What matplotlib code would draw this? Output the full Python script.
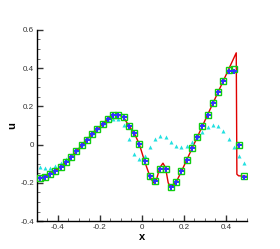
import numpy as np
import matplotlib
matplotlib.use('Agg')
import matplotlib.pyplot as plt
from matplotlib.ticker import MultipleLocator, FuncFormatter

plt.rcParams['font.family'] = ['Liberation Sans', 'DejaVu Sans']
plt.rcParams['axes.unicode_minus'] = False

# cell centres, 40 cells on [-0.5, 0.5]
xc = [-0.4875, -0.4625, -0.4375, -0.4125, -0.3875, -0.3625, -0.3375, -0.3125,
      -0.2875, -0.2625, -0.2375, -0.2125, -0.1875, -0.1625, -0.1375, -0.1125,
      -0.0875, -0.0625, -0.0375, -0.0125, 0.0125, 0.0375, 0.0625, 0.0875,
      0.1125, 0.1375, 0.1625, 0.1875, 0.2125, 0.2375, 0.2625, 0.2875,
      0.3125, 0.3375, 0.3625, 0.3875, 0.4125, 0.4375, 0.4625, 0.4875]

# scheme A (green squares)
u_sq = [-0.172, -0.169, -0.153, -0.136, -0.118, -0.091, -0.066, -0.035,
        -0.004, 0.026, 0.054, 0.080, 0.106, 0.136, 0.157, 0.157,
        0.146, 0.096, 0.063, 0.001, -0.087, -0.164, -0.189, -0.126,
        -0.130, -0.220, -0.196, -0.140, -0.079, -0.019, 0.038, 0.098,
        0.157, 0.216, 0.274, 0.331, 0.388, 0.397, -0.004, -0.166]

# scheme B (blue stars)
u_st = [-0.174, -0.169, -0.153, -0.136, -0.118, -0.091, -0.066, -0.035,
        -0.004, 0.026, 0.054, 0.080, 0.106, 0.136, 0.157, 0.155,
        0.146, 0.096, 0.063, 0.001, -0.087, -0.164, -0.189, -0.126,
        -0.130, -0.220, -0.196, -0.140, -0.079, -0.019, 0.038, 0.098,
        0.157, 0.216, 0.274, 0.331, 0.386, 0.384, -0.004, -0.168]

# scheme C (cyan triangles)
u_tr = [-0.118, -0.124, -0.121, -0.111, -0.095, -0.074, -0.052, -0.027,
        0.003, 0.032, 0.063, 0.088, 0.112, 0.128, 0.135, 0.133,
        0.101, 0.027, -0.047, -0.077, -0.058, -0.012, 0.031, 0.046,
        0.038, 0.014, -0.006, -0.012, -0.007, 0.013, 0.040, 0.065,
        0.090, 0.100, 0.096, 0.071, 0.031, -0.015, -0.060, -0.096]

# reference solution (red line)
x_ref = [-0.5, -0.4875, -0.4625, -0.4375, -0.4125, -0.3875, -0.3625, -0.3375,
         -0.3125, -0.2875, -0.2625, -0.2375, -0.2125, -0.1875, -0.1625, -0.1375,
         -0.12, -0.1, -0.0875, -0.0625, -0.0375, -0.0125, 0.0125, 0.0375,
         0.055, 0.07, 0.085, 0.1, 0.112, 0.125, 0.137, 0.1625, 0.1875,
         0.449, 0.452, 0.46, 0.5]
u_ref = [-0.178, -0.174, -0.168, -0.153, -0.136, -0.117, -0.091, -0.066,
         -0.035, -0.004, 0.026, 0.054, 0.080, 0.106, 0.134, 0.152,
         0.156, 0.150, 0.143, 0.098, 0.062, 0.002, -0.087, -0.165,
         -0.200, -0.180, -0.120, -0.097, -0.120, -0.200, -0.222, -0.197, -0.141,
         0.480, -0.155, -0.163, -0.166]

fig = plt.figure(figsize=(2.8, 2.49), dpi=100)
ax = fig.add_axes([0.132, 0.112, 0.75, 0.768])

ax.plot(x_ref, u_ref, '-', color='#e00000', linewidth=1.0, zorder=2)
ax.plot(xc, u_tr, '^', color='#22e0e0', markersize=2.9, markeredgewidth=0, zorder=3)
ax.plot(xc, u_sq, 's', mfc='none', mec='#11cc11', markersize=4.8, markeredgewidth=1.0, zorder=4)
ax.plot(xc, u_st, 'P', color='#3333ff', markersize=3.6, markeredgewidth=0, zorder=5)

ax.set_xlim(-0.5, 0.5)
ax.set_ylim(-0.4, 0.6)
ax.spines['top'].set_visible(False)
ax.spines['right'].set_visible(False)
ax.spines['left'].set_linewidth(1.0)
ax.spines['bottom'].set_linewidth(1.0)

ax.xaxis.set_major_locator(MultipleLocator(0.2))
ax.xaxis.set_minor_locator(MultipleLocator(0.05))
ax.yaxis.set_major_locator(MultipleLocator(0.2))
ax.yaxis.set_minor_locator(MultipleLocator(0.05))

def fmt(v, pos):
    if abs(v) < 1e-9:
        return '0'
    return '%g' % round(v, 2)

ax.xaxis.set_major_formatter(FuncFormatter(fmt))
ax.yaxis.set_major_formatter(FuncFormatter(fmt))
ax.tick_params(which='major', direction='in', length=4, width=1.0,
               labelsize=5.8, colors='#333333', labelcolor='#333333', pad=2)
ax.tick_params(which='minor', direction='in', length=2, width=0.6, colors='#555555')

ax.set_xlabel('x', fontsize=8, fontweight='bold', labelpad=1)
ax.set_ylabel('u', fontsize=8, fontweight='bold', labelpad=2)

fig.savefig('out.png', dpi=100)
